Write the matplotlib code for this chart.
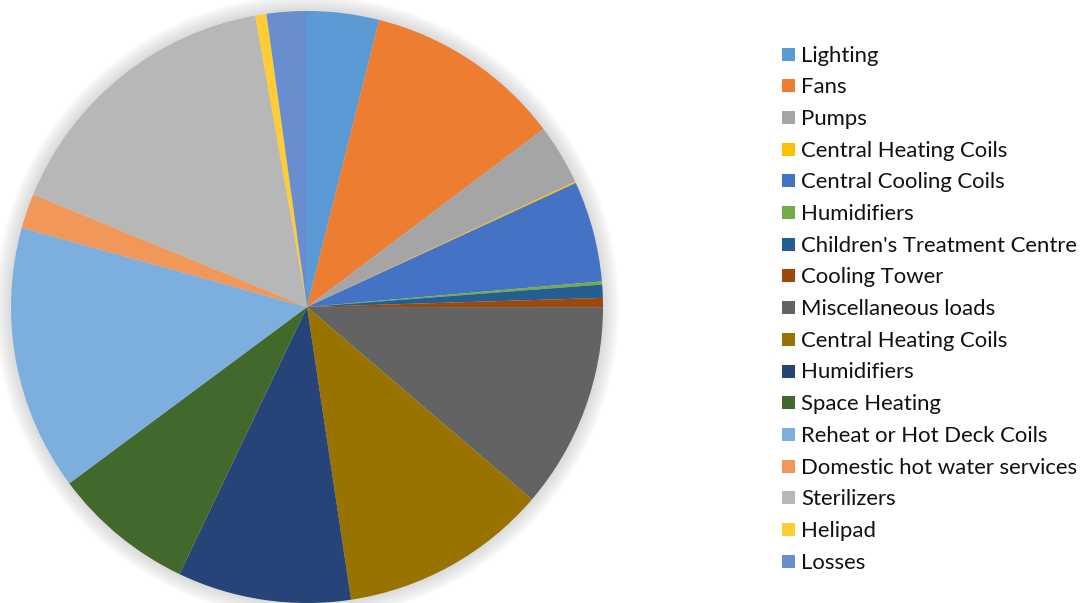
import matplotlib
matplotlib.use("Agg")
import matplotlib.pyplot as plt
from matplotlib.patches import Circle, Rectangle

LABELS = [
    "Lighting", "Fans", "Pumps", "Central Heating Coils", "Central Cooling Coils",
    "Humidifiers", "Children's Treatment Centre", "Cooling Tower",
    "Miscellaneous loads", "Central Heating Coils", "Humidifiers", "Space Heating",
    "Reheat or Hot Deck Coils", "Domestic hot water services", "Sterilizers",
    "Helipad", "Losses",
]
# shares in percent
VALUES = [3.92, 10.81, 3.31, 0.08, 5.50, 0.17, 0.72, 0.50, 11.25, 11.36,
          9.47, 7.75, 14.47, 1.89, 16.00, 0.61, 2.19]
COLORS = ["#5B9BD5", "#ED7D31", "#A5A5A5", "#FFC000", "#4472C4", "#70AD47",
          "#255E91", "#9E480E", "#636363", "#997300", "#264478", "#43682B",
          "#7CAFDD", "#F1975A", "#B7B7B7", "#FFCD33", "#698ED0"]

W, H = 1083, 603
CX, CY, R = 307, H - 307, 296

fig = plt.figure(figsize=(W / 100, H / 100), dpi=100)
ax = fig.add_axes([0, 0, 1, 1])

# soft glow around the pie
for k in range(16, 0, -1):
    ax.add_patch(Circle((CX, CY), R + k, color="#a0a0a0", alpha=0.025, lw=0, zorder=0))

ax.pie(VALUES, colors=COLORS, startangle=90, counterclock=False,
       center=(CX, CY), radius=R, wedgeprops=dict(linewidth=0), frame=False)
for w in ax.patches:
    if not isinstance(w, Circle):
        w.set_zorder(2)

ax.set_xlim(0, W)
ax.set_ylim(0, H)
ax.set_aspect("auto")
ax.axis("off")

# legend, drawn by hand to match the original spacing
fam = ["Lato", "DejaVu Sans"]
size = 14.5
probe = ax.text(0, 0, "Children's Treatment Centre", fontsize=size, family=fam)
fig.canvas.draw()
wpx = probe.get_window_extent().width
probe.remove()
size = size * 276 / wpx

for i, (lab, col) in enumerate(zip(LABELS, COLORS)):
    y = H - (54 + 31.7 * i)
    ax.add_patch(Rectangle((782, y - 6.5), 13, 13, color=col, lw=0))
    ax.text(801, y - 1.5, lab, fontsize=size, family=fam, color="#111111", va="center")

fig.savefig("out.png", dpi=100)
